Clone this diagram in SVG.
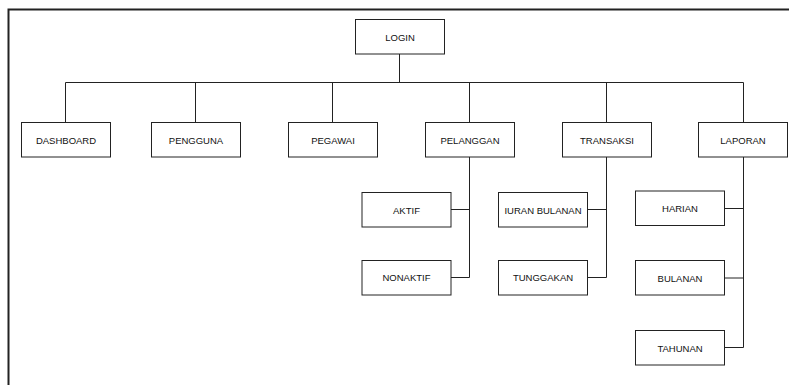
<svg xmlns="http://www.w3.org/2000/svg" width="789" height="385" viewBox="0 0 789 385">
<style>
.box{fill:#fff;stroke:#222;stroke-width:1}
.lbl{font-family:"Liberation Sans",Arial,sans-serif;font-size:9.5px;fill:#111;text-anchor:middle;dominant-baseline:central}
.ln{fill:none;stroke:#222;stroke-width:1}
.frame{fill:none;stroke:#222;stroke-width:2}
</style>
<rect width="789" height="385" fill="#fff"/>
<path class="frame" d="M8.5,385 V9.5 H789"/>
<g id="connectors">
<path class="ln" d="M399.5,54 V82.5 M65.5,82.5 H743.5 M65.5,82.5 V122 M195.5,82.5 V122 M332.5,82.5 V122 M469.5,82.5 V122 M606.5,82.5 V122 M743.5,82.5 V122"/>
<path class="ln" d="M469.5,157 V277.5 M451,209.5 H469.5 M451,277.5 H469.5"/>
<path class="ln" d="M606.5,157 V277.5 M587.5,209.5 H606.5 M587.5,277.5 H606.5"/>
<path class="ln" d="M743.5,157 V347.5 M724.5,208.5 H743.5 M724.5,278 H743.5 M724.5,347.5 H743.5"/>
</g>
<g id="login"><rect class="box" x="355.5" y="19.5" width="89" height="34.5"/><text class="lbl" x="400" y="37">LOGIN</text></g>
<g id="dashboard"><rect class="box" x="21.5" y="122.5" width="89" height="34.5"/><text class="lbl" x="66" y="140">DASHBOARD</text></g>
<g id="pengguna"><rect class="box" x="151.5" y="122.5" width="89" height="34.5"/><text class="lbl" x="196" y="140">PENGGUNA</text></g>
<g id="pegawai"><rect class="box" x="288.5" y="122.5" width="89" height="34.5"/><text class="lbl" x="333" y="140">PEGAWAI</text></g>
<g id="pelanggan"><rect class="box" x="425.5" y="122.5" width="89" height="34.5"/><text class="lbl" x="470" y="140">PELANGGAN</text></g>
<g id="transaksi"><rect class="box" x="562.5" y="122.5" width="89" height="34.5"/><text class="lbl" x="607" y="140">TRANSAKSI</text></g>
<g id="laporan"><rect class="box" x="698.5" y="122.5" width="89" height="34.5"/><text class="lbl" x="743" y="140">LAPORAN</text></g>
<g id="aktif"><rect class="box" x="362" y="192.5" width="89" height="34.5"/><text class="lbl" x="406.5" y="210">AKTIF</text></g>
<g id="nonaktif"><rect class="box" x="362" y="260.5" width="89" height="34.5"/><text class="lbl" x="406.5" y="277.5">NONAKTIF</text></g>
<g id="iuran-bulanan"><rect class="box" x="498.5" y="192.5" width="89" height="34.5"/><text class="lbl" x="543" y="210">IURAN BULANAN</text></g>
<g id="tunggakan"><rect class="box" x="498.5" y="260.5" width="89" height="34.5"/><text class="lbl" x="543" y="277.5">TUNGGAKAN</text></g>
<g id="harian"><rect class="box" x="635.5" y="191" width="89" height="34.5"/><text class="lbl" x="680" y="208.5">HARIAN</text></g>
<g id="bulanan"><rect class="box" x="635.5" y="260.5" width="89" height="34.5"/><text class="lbl" x="680" y="278">BULANAN</text></g>
<g id="tahunan"><rect class="box" x="635.5" y="330.5" width="89" height="34.5"/><text class="lbl" x="680" y="348">TAHUNAN</text></g>
</svg>
